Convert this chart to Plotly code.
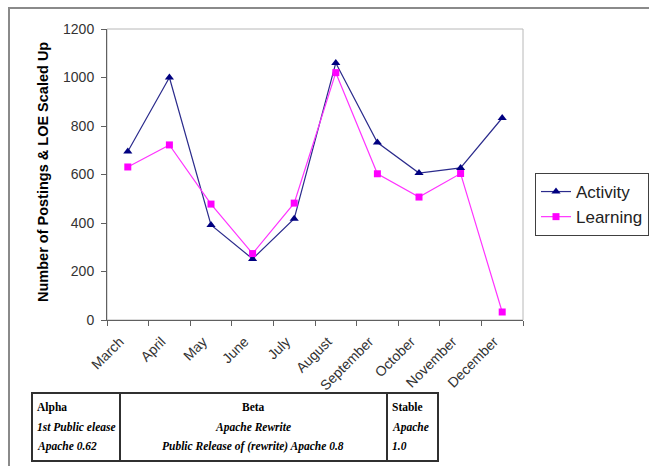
import plotly.graph_objects as go

months = ["March", "April", "May", "June", "July", "August",
          "September", "October", "November", "December"]
activity = [695, 1000, 392, 252, 418, 1060, 732, 606, 627, 833]
learning = [631, 722, 478, 274, 482, 1020, 603, 507, 604, 33]
y_ticks = [0, 200, 400, 600, 800, 1000, 1200]

# release table text
col_alpha = ["<b>Alpha</b>", "<b><i>1st Public elease</i></b>", "<b><i>Apache 0.62</i></b>"]
col_beta = ["<b>Beta</b>", "<b><i>Apache Rewrite</i></b>", "<b><i>Public Release of (rewrite) Apache 0.8</i></b>"]
col_stable = ["<b>Stable</b>", "<b><i>Apache</i></b>", "<b><i>1.0</i></b>"]

W, H = 649, 466
L, R, T, B = 107, 523, 29, 320  # plot area in pixels


def px(x):
    return (x - L) / (R - L)


def py(y):
    return (B - y) / (B - T)


fig = go.Figure()
fig.add_trace(go.Scatter(
    x=months, y=activity, name="Activity", mode="lines+markers",
    line=dict(color="#2b2b8c", width=1.2),
    marker=dict(symbol="triangle-up", size=8, color="#000080"),
))
fig.add_trace(go.Scatter(
    x=months, y=learning, name="Learning", mode="lines+markers",
    line=dict(color="#ff33ff", width=1.2),
    marker=dict(symbol="square", size=7, color="#ff00ff"),
))

shapes = []
# outer chart frame
shapes.append(dict(type="rect", xref="paper", yref="paper",
                   x0=px(9), x1=px(700), y0=py(520), y1=py(8),
                   line=dict(color="#8a8a8a", width=2), layer="below"))
# plot area border (top/right light gray)
shapes.append(dict(type="rect", xref="paper", yref="paper",
                   x0=0, x1=1, y0=0, y1=1,
                   line=dict(color="#b8b8b8", width=1), layer="below"))
# table
tx0, tx1, ty0, ty1 = 32, 438, 393, 461
shapes.append(dict(type="rect", xref="paper", yref="paper",
                   x0=px(tx0), x1=px(tx1), y0=py(ty1), y1=py(ty0),
                   line=dict(color="#303030", width=2)))
for xd in (120, 387):
    shapes.append(dict(type="line", xref="paper", yref="paper",
                       x0=px(xd), x1=px(xd), y0=py(ty1), y1=py(ty0),
                       line=dict(color="#303030", width=2)))

annotations = []
annotations.append(dict(
    text="<b>Number of Postings &amp; LOE Scaled Up</b>", textangle=-90,
    xref="paper", yref="paper", x=px(43), y=py(172), showarrow=False,
    xanchor="center", yanchor="middle",
    font=dict(family="Liberation Sans, Arial", size=14.5, color="#000000"),
))
line_ys = [407, 427, 446]
tfont = dict(family="Liberation Serif, Times New Roman", size=11.5, color="#000000")
for i, yy in enumerate(line_ys):
    annotations.append(dict(text=col_alpha[i], xref="paper", yref="paper",
                            x=px(35), y=py(yy), xanchor="left", yanchor="middle",
                            showarrow=False, font=tfont))
    annotations.append(dict(text=col_beta[i], xref="paper", yref="paper",
                            x=px(253), y=py(yy), xanchor="center", yanchor="middle",
                            showarrow=False, font=tfont))
    annotations.append(dict(text=col_stable[i], xref="paper", yref="paper",
                            x=px(390), y=py(yy), xanchor="left", yanchor="middle",
                            showarrow=False, font=tfont))

fig.update_layout(
    width=W, height=H, autosize=False,
    margin=dict(l=L, r=W - R, t=T, b=H - B, pad=0, autoexpand=False),
    paper_bgcolor="white", plot_bgcolor="white",
    font=dict(family="Liberation Sans, Arial", color="#222222"),
    showlegend=True,
    legend=dict(xref="container", yref="container",
                x=535 / W, y=1 - 173 / H, xanchor="left", yanchor="top",
                bgcolor="white", bordercolor="#404040", borderwidth=1,
                font=dict(size=17, color="#222222")),
    shapes=shapes, annotations=annotations,
    xaxis=dict(type="category", categoryorder="array", categoryarray=months,
               range=[-0.5, len(months) - 0.5], tickangle=-45, automargin=False,
               ticks="outside", tickson="boundaries", ticklen=5,
               ticklabelstandoff=7, ticklabelshift=-8,
               tickcolor="#606060", showline=True, linecolor="#606060",
               linewidth=1, showgrid=False, zeroline=False,
               tickfont=dict(size=14, color="#333333")),
    yaxis=dict(range=[0, 1200], tickvals=y_ticks, ticks="outside", ticklen=5,
               automargin=False, ticklabelstandoff=4,
               tickcolor="#606060", showline=True, linecolor="#606060",
               linewidth=1, showgrid=False, zeroline=False,
               tickfont=dict(size=14, color="#333333")),
)

fig.write_html("out.html", config={"displayModeBar": False},
               post_script="document.body.style.margin='0';document.body.style.overflow='hidden';")
